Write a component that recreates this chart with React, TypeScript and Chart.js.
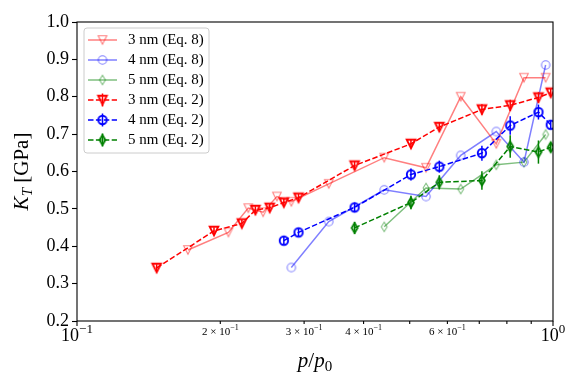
import React, { useEffect, useRef } from 'react';
import { Chart, registerables } from 'chart.js';

Chart.register(...registerables);

// ---------- data ----------
const pEq8_3 = [0.171, 0.208, 0.229, 0.246, 0.263, 0.282, 0.338, 0.442, 0.541, 0.64, 0.76, 0.869, 0.965];
const kEq8_3 = [0.39, 0.437, 0.502, 0.491, 0.533, 0.519, 0.567, 0.637, 0.61, 0.8, 0.674, 0.851, 0.851];
const pEq8_4 = [0.282, 0.338, 0.442, 0.541, 0.64, 0.76, 0.869, 0.965];
const kEq8_4 = [0.343, 0.466, 0.551, 0.533, 0.643, 0.707, 0.625, 0.885];
const pEq8_5 = [0.442, 0.541, 0.64, 0.76, 0.869, 0.965];
const kEq8_5 = [0.452, 0.556, 0.553, 0.618, 0.625, 0.699];

const pEq2_3 = [0.147, 0.194, 0.222, 0.237, 0.254, 0.272, 0.292, 0.383, 0.503, 0.577, 0.709, 0.813, 0.932, 0.989];
const kEq2_3 = [0.342, 0.441, 0.461, 0.497, 0.503, 0.517, 0.53, 0.616, 0.674, 0.719, 0.766, 0.777, 0.798, 0.811];
const eEq2_3 = [0.01, 0.01, 0.01, 0.01, 0.01, 0.01, 0.01, 0.012, 0.012, 0.012, 0.014, 0.015, 0.014, 0.01];
const pEq2_4 = [0.272, 0.292, 0.383, 0.503, 0.577, 0.709, 0.813, 0.932, 0.989];
const kEq2_4 = [0.415, 0.437, 0.504, 0.592, 0.613, 0.649, 0.723, 0.759, 0.725];
const eEq2_4 = [0.011, 0.011, 0.013, 0.016, 0.016, 0.02, 0.025, 0.02, 0.011];
const pEq2_5 = [0.383, 0.503, 0.577, 0.709, 0.813, 0.932, 0.989];
const kEq2_5 = [0.449, 0.517, 0.571, 0.576, 0.667, 0.652, 0.665];
const eEq2_5 = [0.016, 0.018, 0.019, 0.025, 0.03, 0.031, 0.013];

const seriesLabels = ['3 nm (Eq. 8)', '4 nm (Eq. 8)', '5 nm (Eq. 8)', '3 nm (Eq. 2)', '4 nm (Eq. 2)', '5 nm (Eq. 2)'];

const yTicks = [0.2, 0.3, 0.4, 0.5, 0.6, 0.7, 0.8, 0.9, 1.0];
const xTickValues = [0.1, 0.2, 0.3, 0.4, 0.5, 0.6, 0.7, 0.8, 0.9, 1.0];
const xLabelValues = [0.1, 0.2, 0.3, 0.4, 0.6, 1.0];
const xLabelBase = ['10', '2 \u00d7 10', '3 \u00d7 10', '4 \u00d7 10', '6 \u00d7 10', '10'];
const xLabelExp = ['\u22121', '\u22121', '\u22121', '\u22121', '\u22121', '0'];
const xLabelMajor = [true, false, false, false, false, true];

const FONT = "'Liberation Serif', 'Times New Roman', serif";

type Run = { text: string; font: string; dy?: number };

function runsWidth(ctx: CanvasRenderingContext2D, runs: Run[]) {
  let w = 0;
  for (const r of runs) {
    ctx.font = r.font;
    w += ctx.measureText(r.text).width;
  }
  return w;
}

function drawRuns(ctx: CanvasRenderingContext2D, runs: Run[], x: number, y: number) {
  let cx = x;
  for (const r of runs) {
    ctx.font = r.font;
    ctx.fillText(r.text, cx, y + (r.dy || 0));
    cx += ctx.measureText(r.text).width;
  }
}

function makeMarker(shape: string, color: string, lw: number): HTMLCanvasElement {
  const c = document.createElement('canvas');
  c.width = 20;
  c.height = 20;
  const g = c.getContext('2d')!;
  g.strokeStyle = color;
  g.lineWidth = lw;
  g.lineJoin = 'miter';
  const cx = 10, cy = 10;
  g.beginPath();
  if (shape === 'tri') {
    const r = 4.3;
    g.moveTo(cx, cy + r);
    g.lineTo(cx - r, cy - r);
    g.lineTo(cx + r, cy - r);
    g.closePath();
  } else if (shape === 'circle') {
    g.arc(cx, cy, 4.2, 0, Math.PI * 2);
  } else {
    const rv = 4.8, rh = 2.9;
    g.moveTo(cx, cy - rv);
    g.lineTo(cx + rh, cy);
    g.lineTo(cx, cy + rv);
    g.lineTo(cx - rh, cy);
    g.closePath();
  }
  g.stroke();
  return c;
}

export default function App() {
  const ref = useRef<HTMLCanvasElement>(null);

  useEffect(() => {
    const canvas = ref.current!;
    const series = [
      { p: pEq8_3, k: kEq8_3, color: 'rgba(255,0,0,0.5)', marker: 'tri', dashed: false, err: null as number[] | null },
      { p: pEq8_4, k: kEq8_4, color: 'rgba(0,0,255,0.5)', marker: 'circle', dashed: false, err: null },
      { p: pEq8_5, k: kEq8_5, color: 'rgba(0,128,0,0.5)', marker: 'diamond', dashed: false, err: null },
      { p: pEq2_3, k: kEq2_3, color: '#ff0000', marker: 'tri', dashed: true, err: eEq2_3 },
      { p: pEq2_4, k: kEq2_4, color: '#0000ff', marker: 'circle', dashed: true, err: eEq2_4 },
      { p: pEq2_5, k: kEq2_5, color: '#008000', marker: 'diamond', dashed: true, err: eEq2_5 },
    ];
    const markers = series.map((s) => makeMarker(s.marker, s.color, s.dashed ? 1.9 : 1.1));
    const DASH = [5.5, 2.4];

    const datasets: any[] = series.map((s, i) => ({
      label: seriesLabels[i],
      data: s.p.map((p, j) => ({ x: p, y: s.k[j] })),
      showLine: true,
      borderColor: s.color,
      backgroundColor: 'transparent',
      borderWidth: 1.5,
      borderDash: s.dashed ? DASH : [],
      pointStyle: markers[i],
      pointRadius: 4,
      pointHoverRadius: 4,
      fill: false,
      tension: 0,
      order: s.dashed ? 0 : 1,
      errors: s.err,
    }));

    const custom = {
      id: 'custom',
      afterDatasetsDraw(chart: any) {
        const { ctx, chartArea: a } = chart;
        const xs = chart.scales.x, ys = chart.scales.y;
        ctx.save();
        ctx.beginPath();
        ctx.rect(a.left, a.top, a.right - a.left, a.bottom - a.top);
        ctx.clip();
        chart.data.datasets.forEach((ds: any) => {
          if (!ds.errors) return;
          ctx.strokeStyle = ds.borderColor;
          ctx.lineWidth = 1.5;
          ctx.setLineDash([]);
          ds.data.forEach((pt: any, j: number) => {
            const px = xs.getPixelForValue(pt.x);
            ctx.beginPath();
            ctx.moveTo(px, ys.getPixelForValue(pt.y - ds.errors[j]));
            ctx.lineTo(px, ys.getPixelForValue(pt.y + ds.errors[j]));
            ctx.stroke();
          });
        });
        ctx.restore();
      },
      afterDraw(chart: any) {
        const { ctx, chartArea: a } = chart;
        const xs = chart.scales.x;
        ctx.save();
        // spines
        ctx.strokeStyle = '#000';
        ctx.lineWidth = 1.1;
        ctx.setLineDash([]);
        ctx.strokeRect(a.left, a.top, a.right - a.left, a.bottom - a.top);
        // x ticks
        xTickValues.forEach((v) => {
          const px = xs.getPixelForValue(v);
          const major = v === 0.1 || v === 1.0;
          ctx.beginPath();
          ctx.moveTo(px, a.bottom);
          ctx.lineTo(px, a.bottom + (major ? 5 : 3));
          ctx.stroke();
        });
        // x tick labels
        ctx.fillStyle = '#000';
        ctx.textBaseline = 'alphabetic';
        ctx.textAlign = 'left';
        xLabelValues.forEach((v, i) => {
          const size = xLabelMajor[i] ? 18 : 11;
          const runs: Run[] = [
            { text: xLabelBase[i], font: `${size}px ${FONT}` },
            { text: xLabelExp[i], font: `${Math.round(size * 0.7)}px ${FONT}`, dy: -size * 0.42 },
          ];
          const w = runsWidth(ctx, runs);
          const px = xs.getPixelForValue(v);
          drawRuns(ctx, runs, px - w / 2, xLabelMajor[i] ? 341 : 335);
        });
        // x title
        const xt: Run[] = [
          { text: 'p', font: `italic 21px ${FONT}` },
          { text: '/', font: `21px ${FONT}` },
          { text: 'p', font: `italic 21px ${FONT}` },
          { text: '0', font: `15px ${FONT}`, dy: 4 },
        ];
        const xtw = runsWidth(ctx, xt);
        drawRuns(ctx, xt, (a.left + a.right) / 2 - xtw / 2, 367);
        // y title
        const yt: Run[] = [
          { text: 'K', font: `italic 21px ${FONT}` },
          { text: 'T', font: `italic 15px ${FONT}`, dy: 4 },
          { text: ' [GPa]', font: `21px ${FONT}` },
        ];
        const ytw = runsWidth(ctx, yt);
        ctx.save();
        ctx.translate(28, (a.top + a.bottom) / 2);
        ctx.rotate(-Math.PI / 2);
        drawRuns(ctx, yt, -ytw / 2, 0);
        ctx.restore();

        // legend
        const bx = 84, by = 28, bw = 125, bh = 125, rad = 3;
        ctx.beginPath();
        ctx.moveTo(bx + rad, by);
        ctx.lineTo(bx + bw - rad, by);
        ctx.quadraticCurveTo(bx + bw, by, bx + bw, by + rad);
        ctx.lineTo(bx + bw, by + bh - rad);
        ctx.quadraticCurveTo(bx + bw, by + bh, bx + bw - rad, by + bh);
        ctx.lineTo(bx + rad, by + bh);
        ctx.quadraticCurveTo(bx, by + bh, bx, by + bh - rad);
        ctx.lineTo(bx, by + rad);
        ctx.quadraticCurveTo(bx, by, bx + rad, by);
        ctx.closePath();
        ctx.fillStyle = 'rgba(255,255,255,0.8)';
        ctx.fill();
        ctx.strokeStyle = '#cccccc';
        ctx.lineWidth = 1;
        ctx.stroke();

        chart.data.datasets.forEach((ds: any, i: number) => {
          const ry = 40 + i * 20;
          ctx.strokeStyle = ds.borderColor;
          ctx.lineWidth = 1.5;
          ctx.setLineDash(ds.borderDash || []);
          ctx.beginPath();
          ctx.moveTo(88, ry);
          ctx.lineTo(117, ry);
          ctx.stroke();
          ctx.setLineDash([]);
          if (ds.errors) {
            ctx.beginPath();
            ctx.moveTo(102.5, ry - 6.5);
            ctx.lineTo(102.5, ry + 6.5);
            ctx.stroke();
          }
          ctx.drawImage(ds.pointStyle, 102.5 - 10, ry - 10);
          ctx.fillStyle = '#000';
          ctx.font = `15px ${FONT}`;
          ctx.textBaseline = 'middle';
          ctx.fillText(ds.label, 128, ry + 0.5);
        });
        ctx.restore();
      },
    };

    const chart = new Chart(canvas, {
      type: 'scatter',
      data: { datasets },
      options: {
        animation: false,
        responsive: false,
        devicePixelRatio: 1,
        events: [],
        layout: { padding: { top: 22, right: 28, bottom: 0, left: 0 } },
        plugins: { legend: { display: false }, tooltip: { enabled: false } },
        scales: {
          x: {
            type: 'logarithmic',
            min: 0.1,
            max: 1.0,
            ticks: { display: false },
            grid: { display: false },
            border: { display: false },
            afterBuildTicks: (scale: any) => {
              scale.ticks = xTickValues.map((v) => ({ value: v }));
            },
            afterFit: (scale: any) => {
              scale.height = 67;
            },
          },
          y: {
            type: 'linear',
            min: 0.2,
            max: 1.0,
            afterBuildTicks: (scale: any) => {
              scale.ticks = yTicks.map((v) => ({ value: v }));
            },
            ticks: {
              autoSkip: false,
              color: '#000',
              padding: 3,
              font: { family: FONT, size: 18 },
              callback: (v: any) => Number(v).toFixed(1),
            },
            grid: {
              display: true,
              drawOnChartArea: false,
              drawTicks: true,
              tickLength: 5,
              tickColor: '#000',
              tickWidth: 1.1,
            },
            border: { display: false },
            afterFit: (scale: any) => {
              scale.width = 77;
            },
          },
        },
      } as any,
      plugins: [custom],
    });
    return () => chart.destroy();
  }, []);

  return (
    <div style={{ position: 'absolute', left: 0, top: 0, width: 581, height: 388, background: '#fff' }}>
      <canvas ref={ref} width={581} height={388} style={{ display: 'block', width: 581, height: 388 }} />
    </div>
  );
}
